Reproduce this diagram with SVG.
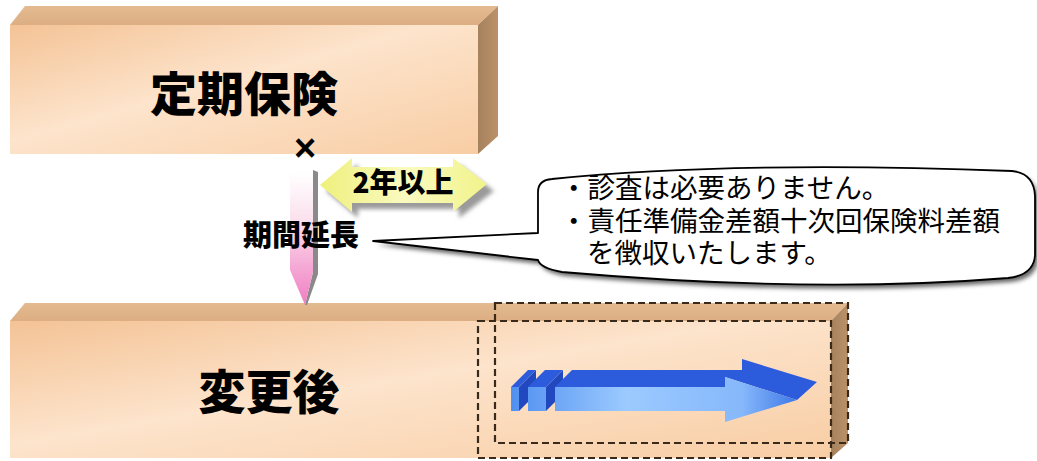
<svg xmlns="http://www.w3.org/2000/svg" width="1037" height="461" viewBox="0 0 1037 461">
  <style>
    .jpb { font-family: "Noto Sans CJK JP", "Noto Sans CJK SC", sans-serif; font-weight: 900; fill: #000; }
    .jpn { font-family: "Liberation Sans", "Noto Sans CJK JP", "Noto Sans CJK SC", sans-serif; font-weight: 400; fill: #000; }
    .topface { fill: url(#gTop); }
    .front { fill: url(#gFront); }
    .side { fill: url(#gSide); }
    .dash { fill: none; stroke: #3a2a1c; stroke-width: 2.2; stroke-dasharray: 7 4; }
    .btop { fill: #2c5bdc; }
    .bfront { fill: url(#gBlue); }
    .bside { fill: #2248c0; }
  </style>
  <defs>
    <linearGradient id="gTop" x1="0" y1="0" x2="0" y2="1">
      <stop offset="0" stop-color="#e4ba90"/>
      <stop offset="1" stop-color="#dcae82"/>
    </linearGradient>
    <linearGradient id="gFront" x1="0" y1="0" x2="1" y2="1">
      <stop offset="0" stop-color="#f4c396"/>
      <stop offset="0.45" stop-color="#fde4cc"/>
      <stop offset="1" stop-color="#f8cda4"/>
    </linearGradient>
    <linearGradient id="gSide" x1="0" y1="0" x2="1" y2="0">
      <stop offset="0" stop-color="#a5815d"/>
      <stop offset="1" stop-color="#bb9269"/>
    </linearGradient>
    <linearGradient id="gPink" x1="0" y1="172" x2="0" y2="305" gradientUnits="userSpaceOnUse">
      <stop offset="0" stop-color="#ffffff"/>
      <stop offset="0.35" stop-color="#fbe2ee"/>
      <stop offset="1" stop-color="#f07cc2"/>
    </linearGradient>
    <linearGradient id="gYellow" x1="320" y1="0" x2="488" y2="0" gradientUnits="userSpaceOnUse">
      <stop offset="0" stop-color="#eef07c"/>
      <stop offset="0.5" stop-color="#fafac0"/>
      <stop offset="1" stop-color="#f1f38a"/>
    </linearGradient>
    <linearGradient id="gBlue" x1="510" y1="0" x2="800" y2="0" gradientUnits="userSpaceOnUse">
      <stop offset="0" stop-color="#4f8ff0"/>
      <stop offset="0.4" stop-color="#9ccaff"/>
      <stop offset="0.8" stop-color="#86b8fb"/>
      <stop offset="1" stop-color="#3b74e6"/>
    </linearGradient>
    <filter id="blur" x="-5%" y="-5%" width="110%" height="120%">
      <feGaussianBlur stdDeviation="2"/>
    </filter>
  </defs>

  <rect x="0" y="0" width="1037" height="461" fill="#ffffff"/>

  <!-- Top box: 定期保険 -->
  <g id="box-term">
    <polygon class="topface" points="10,25 25,6 498,6 478,25"/>
    <polygon class="side" points="478,25 498,6 498,136 478,154"/>
    <rect class="front" x="10" y="25" width="468" height="129"/>
    <text class="jpb" x="244" y="111" font-size="47" text-anchor="middle">定期保険</text>
    <text x="305" y="161" font-family="Liberation Sans, Arial, sans-serif" font-weight="bold" font-size="38" text-anchor="middle">×</text>
  </g>

  <!-- Bottom box: 変更後 -->
  <g id="box-after">
    <polygon class="topface" points="10,321 25,303 848,303 831,321"/>
    <polygon class="side" points="831,321 848,303 848,443 831,458"/>
    <rect class="front" x="10" y="321" width="821" height="137"/>
    <text class="jpb" x="269" y="409" font-size="47" text-anchor="middle">変更後</text>
  </g>

  <!-- Blue 3D arrow -->
  <g id="blue-arrow">
    <polygon class="bside" points="519,387 536,370 536,394 519,411"/>
    <polygon class="btop" points="511,387 528,370 536,370 519,387"/>
    <rect class="bfront" x="511" y="387" width="8" height="24"/>
    <polygon class="bside" points="546,387 563,370 563,394 546,411"/>
    <polygon class="btop" points="528,387 545,370 563,370 546,387"/>
    <rect class="bfront" x="528" y="387" width="18" height="24"/>
    <polygon class="btop" points="555,387 572,370 742,370 742,359 817,382 797,400 725,377 725,387"/>
    <polygon class="bfront" points="555,387 725,387 725,377 797,400 725,422 725,411 555,411"/>
  </g>

  <!-- Dashed frames -->
  <g id="dashed-frames">
    <rect class="dash" x="495" y="303" width="353" height="140"/>
    <rect class="dash" x="478" y="321" width="353" height="137"/>
  </g>

  <!-- Connectors -->
  <g id="connectors">
    <polygon points="313,170 318,172 318,274 307,305 305,305 313,272" fill="#8a8a8a"/>
    <polygon points="290,172 313,172 313,272 305,305 290,270" fill="url(#gPink)"/>
  </g>

  <!-- Yellow double arrow: 2年以上 -->
  <g id="period-arrow">
    <polygon points="326,191 358,164 358,173 459,173 459,164 494,191 459,218 459,209 358,209 358,218" fill="#9a9a9a" filter="url(#blur)"/>
    <polygon points="320,185 352,158 352,167 453,167 453,158 487,184 453,212 453,203 352,203 352,212" fill="url(#gYellow)"/>
    <text class="jpb" x="403" y="193" font-size="28" text-anchor="middle">2年以上</text>
  </g>

  <!-- Label: 期間延長 -->
  <g id="label-extension">
    <text class="jpb" x="301" y="246" font-size="29" text-anchor="middle">期間延長</text>
  </g>

  <!-- Callout -->
  <g id="callout">
    <path d="M 538,233 L 538,192 Q 538,180 552,179 C 700,164 880,166 1012,171 Q 1034,173 1035,196 L 1035,255 Q 1034,275 1008,278 C 860,290 700,284 562,272 Q 540,268 538,260 L 373,241 Z" fill="#666" transform="translate(3,4)" filter="url(#blur)"/>
    <path d="M 538,233 L 538,192 Q 538,180 552,179 C 700,164 880,166 1012,171 Q 1034,173 1035,196 L 1035,255 Q 1034,275 1008,278 C 860,290 700,284 562,272 Q 540,268 538,260 L 373,241 Z" fill="#ffffff" stroke="#000" stroke-width="1.8" stroke-linejoin="round"/>
    <text class="jpn" font-size="27.5"><tspan x="560" y="198">・診査は必要ありません。</tspan><tspan x="560" y="231">・責任準備金差額十次回保険料差額</tspan><tspan x="587" y="263">を徴収いたします。</tspan></text>
  </g>
</svg>
